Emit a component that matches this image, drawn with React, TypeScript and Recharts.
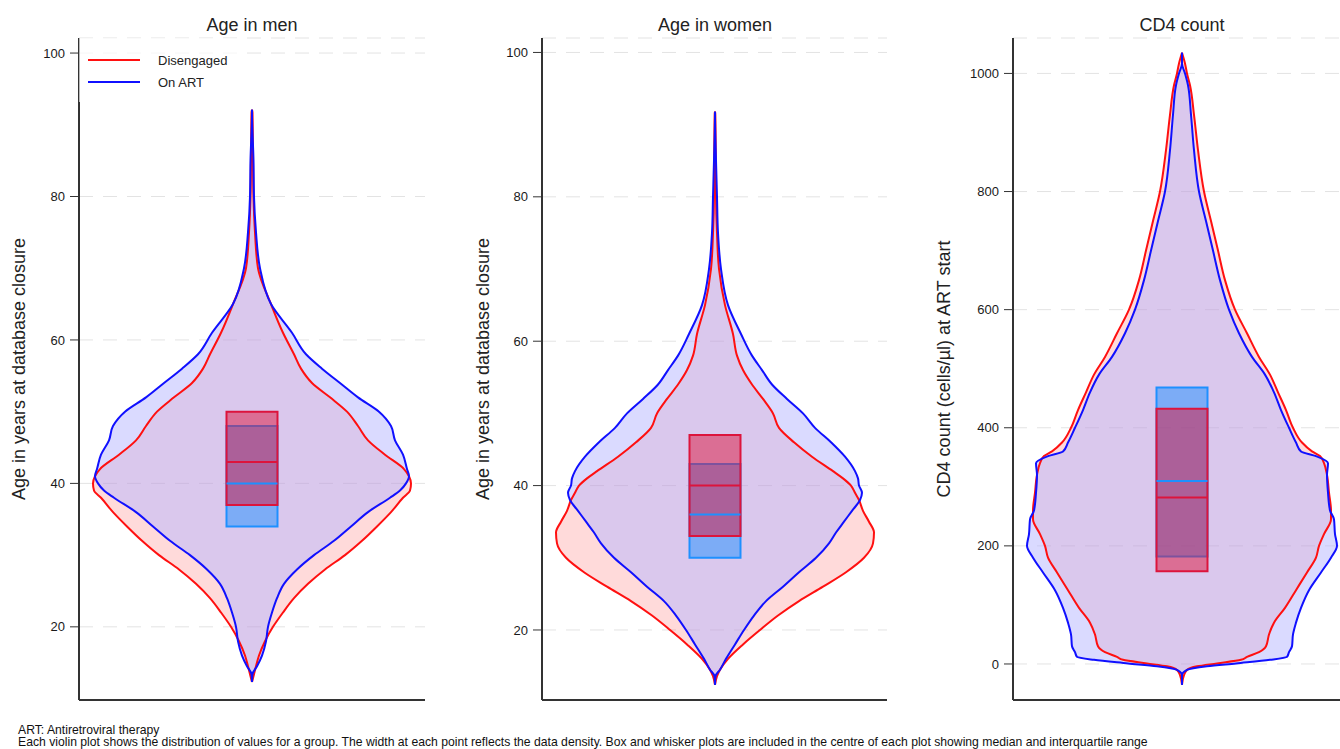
import React from "react";
import {
  Area,
  CartesianGrid,
  ComposedChart,
  Legend,
  ReferenceArea,
  ReferenceLine,
  XAxis,
  YAxis,
} from "recharts";

// violin half-widths (density, arbitrary units) read at each value level
const menAge = [12.3, 13.4, 14.5, 16, 18, 20, 22, 24, 26, 28, 30, 32, 34, 36, 38, 39, 40, 41, 42, 44, 46, 48, 50, 52, 54, 56, 58, 61, 65, 70, 75, 80, 85, 91.7, 92.1];
const menDisengaged = [0, 2, 4, 7, 13, 21, 31, 42, 56, 73, 93, 110, 125, 139, 151, 158, 159, 157, 152, 133, 116, 106, 95, 78, 60, 49, 42, 31, 19, 6, 3, 1.5, 1, 0.5, 0];
const menOnArt = [0, 0.5, 5, 10, 14, 16, 20, 25, 32, 45, 62, 82, 99, 116, 138, 148, 154, 157, 155, 151, 143, 139, 127, 106, 88, 70, 54, 40, 19, 8, 4, 2, 1.5, 0, 0];

const womenAge = [12.4, 13.6, 14.5, 16, 18, 20, 22, 24, 26, 28, 30, 32, 33.5, 35, 36.5, 38, 39, 40, 41, 42, 44, 46, 48, 50, 52, 54, 56, 58, 61, 65, 70, 75, 80, 85, 91.5, 91.8];
const womenDisengaged = [0, 2, 5, 13, 28, 45, 63, 84, 108, 131, 149, 158, 159, 154, 148, 144, 140, 136, 128, 118, 97, 79, 64, 58, 48, 37, 28, 22, 18, 10, 4, 2, 1, 0.8, 0.3, 0];
const womenOnArt = [0, 0.5, 5, 11, 20, 29, 39, 51, 68, 84, 101, 114, 121, 129, 137, 145, 147, 144, 143, 140, 130, 116, 100, 88, 72, 57, 47, 37, 26, 13, 6, 3, 2, 1, 0, 0];

const cd4Count = [-35, -19, -10, -4, 1, 7, 12, 20, 30, 50, 70, 95, 125, 155, 180, 200, 220, 245, 260, 290, 320, 340, 352, 360, 375, 400, 430, 460, 490, 520, 560, 600, 650, 700, 750, 800, 870, 930, 980, 1000, 1017, 1035];
const cd4Disengaged = [0, 2, 5, 15, 35, 59, 65, 77, 84, 87, 92, 103, 114, 125, 134, 137, 142, 149, 149, 147, 145, 142, 138, 130, 120, 111, 104, 96, 88, 77, 65, 53, 43, 36, 29, 22, 16, 12, 8, 5, 3, 0];
const cd4OnArt = [0, 0, 5, 25, 54, 88, 105, 107, 110, 111, 114, 119, 127, 139, 149, 155, 153, 152, 148, 146, 145, 146, 134, 119, 114, 107, 99, 92, 83, 70, 57, 47, 38, 31, 24, 17, 12, 9, 6, 3, 0, 0];

// [q1, median, q3]
const menBoxDisengaged = [37, 43, 50];
const menBoxOnArt = [34, 40, 48];
const womenBoxDisengaged = [33, 40, 47];
const womenBoxOnArt = [30, 36, 43];
const cd4BoxDisengaged = [157, 282, 432];
const cd4BoxOnArt = [182, 310, 468];

const ageTicks = [20, 40, 60, 80, 100];
const cd4Ticks = [0, 200, 400, 600, 800, 1000];
const groupNames = ["Disengaged", "On ART"];

const RED = "#ff1010";
const BLUE = "#1010ff";
const BOX_RED = "#dc143c";
const BOX_BLUE = "#1e90ff";
const BOX_HALF = 25.5;
const FONT = "'Liberation Sans', Arial, sans-serif";

const buildRows = (levels: number[], dis: number[], art: number[]) =>
  levels.map((v, i) => ({ v, dis: [-dis[i], dis[i]], art: [-art[i], art[i]] }));

const renderLegend = (props: any) => {
  const items = (props.payload || []).filter((p: any) => p.type !== "none");
  return (
    <div style={{ padding: "11px 0 0 9px", fontFamily: FONT }}>
      {items.map((p: any) => (
        <div key={p.value} style={{ display: "flex", alignItems: "center", height: 22 }}>
          <svg width={52} height={4} style={{ display: "block" }}>
            <line x1={0} y1={2} x2={52} y2={2} stroke={p.color} strokeWidth={2} />
          </svg>
          <span style={{ marginLeft: 18, fontSize: 13, color: "#222" }}>{p.value}</span>
        </div>
      ))}
    </div>
  );
};

interface ViolinPanelProps {
  title: string;
  yLabel: string;
  rows: { v: number; dis: number[]; art: number[] }[];
  boxDis: number[];
  boxArt: number[];
  ticks: number[];
  yDomain: [number, number];
  xDomain: [number, number];
  left: number;
  rightMargin: number;
  labelOffset: number;
  centre: number;
  showLegend?: boolean;
}

const ViolinPanel: React.FC<ViolinPanelProps> = ({
  title,
  yLabel,
  rows,
  boxDis,
  boxArt,
  ticks,
  yDomain,
  xDomain,
  left,
  rightMargin,
  labelOffset,
  centre,
  showLegend,
}) => {
  return (
    <>
      <div
        style={{
          position: "absolute",
          left: centre - 150,
          width: 300,
          top: 16,
          textAlign: "center",
          fontSize: 18,
          lineHeight: "18px",
          color: "#222",
          fontFamily: FONT,
        }}
      >
        {title}
      </div>
      <div style={{ position: "absolute", left, top: 0 }}>
        <ComposedChart
          width={440}
          height={749}
          layout="vertical"
          data={rows}
          margin={{ top: 38, right: rightMargin, bottom: 48, left: 0 }}
        >
          <CartesianGrid vertical={false} stroke="#e3e3e3" strokeDasharray="14 10" />
          <XAxis
            type="number"
            domain={xDomain}
            tick={false}
            tickLine={false}
            height={1}
            axisLine={{ stroke: "#333", strokeWidth: 2 }}
          />
          <YAxis
            type="number"
            dataKey="v"
            domain={yDomain}
            reversed
            ticks={ticks}
            width={79}
            tickSize={9}
            tickMargin={5}
            tick={{ fontSize: 13, fill: "#1a1a1a", fontFamily: FONT }}
            tickLine={{ stroke: "#333" }}
            axisLine={{ stroke: "#333", strokeWidth: 2 }}
            label={{
              value: yLabel,
              angle: -90,
              position: "insideLeft",
              offset: labelOffset,
              style: { textAnchor: "middle", fontSize: 18, fill: "#222", fontFamily: FONT },
            }}
          />
          <Area
            dataKey="dis"
            type="monotone"
            stroke="none"
            fill="#ff0000"
            fillOpacity={0.145}
            legendType="none"
            dot={false}
            activeDot={false}
            isAnimationActive={false}
          />
          <Area
            dataKey="art"
            type="monotone"
            stroke="none"
            fill="#b5b5ff"
            fillOpacity={0.5}
            legendType="none"
            dot={false}
            activeDot={false}
            isAnimationActive={false}
          />
          <Area
            name={groupNames[0]}
            dataKey="dis"
            type="monotone"
            stroke={RED}
            strokeWidth={2}
            fill="none"
            dot={false}
            activeDot={false}
            isAnimationActive={false}
          />
          <Area
            name={groupNames[1]}
            dataKey="art"
            type="monotone"
            stroke={BLUE}
            strokeWidth={2}
            fill="none"
            dot={false}
            activeDot={false}
            isAnimationActive={false}
          />
          <ReferenceArea
            x1={-BOX_HALF}
            x2={BOX_HALF}
            y1={boxArt[0]}
            y2={boxArt[2]}
            fill={BOX_BLUE}
            fillOpacity={0.5}
            stroke={BOX_BLUE}
            strokeWidth={2}
          />
          <ReferenceArea
            x1={-BOX_HALF}
            x2={BOX_HALF}
            y1={boxDis[0]}
            y2={boxDis[2]}
            fill={BOX_RED}
            fillOpacity={0.5}
            stroke={BOX_RED}
            strokeWidth={2}
          />
          <ReferenceLine
            segment={[
              { x: -BOX_HALF, y: boxDis[1] },
              { x: BOX_HALF, y: boxDis[1] },
            ]}
            stroke={BOX_RED}
            strokeWidth={2}
          />
          <ReferenceLine
            segment={[
              { x: -BOX_HALF, y: boxArt[1] },
              { x: BOX_HALF, y: boxArt[1] },
            ]}
            stroke={BOX_BLUE}
            strokeWidth={2}
          />
          {showLegend && (
            <Legend
              layout="horizontal"
              verticalAlign="middle"
              align="center"
              content={renderLegend}
              wrapperStyle={{
                left: 79,
                top: 38,
                width: 161,
                height: 64,
                background: "rgba(255,255,255,0.65)",
              }}
            />
          )}
        </ComposedChart>
      </div>
    </>
  );
};

export default function App() {
  return (
    <div
      style={{
        position: "absolute",
        left: 0,
        top: 0,
        width: 1340,
        height: 749,
        overflow: "hidden",
        background: "#fff",
        fontFamily: FONT,
      }}
    >
      <ViolinPanel
        title="Age in men"
        yLabel="Age in years at database closure"
        rows={buildRows(menAge, menDisengaged, menOnArt)}
        boxDis={menBoxDisengaged}
        boxArt={menBoxOnArt}
        ticks={ageTicks}
        yDomain={[9.8, 102.1]}
        xDomain={[-173, 173]}
        left={0}
        rightMargin={15}
        labelOffset={19}
        centre={252}
        showLegend
      />
      <ViolinPanel
        title="Age in women"
        yLabel="Age in years at database closure"
        rows={buildRows(womenAge, womenDisengaged, womenOnArt)}
        boxDis={womenBoxDisengaged}
        boxArt={womenBoxOnArt}
        ticks={ageTicks}
        yDomain={[10.3, 102.0]}
        xDomain={[-173, 172]}
        left={463}
        rightMargin={16}
        labelOffset={20}
        centre={715}
      />
      <ViolinPanel
        title="CD4 count"
        yLabel="CD4 count (cells/µl) at ART start"
        rows={buildRows(cd4Count, cd4Disengaged, cd4OnArt)}
        boxDis={cd4BoxDisengaged}
        boxArt={cd4BoxOnArt}
        ticks={cd4Ticks}
        yDomain={[-61, 1060]}
        xDomain={[-169, 169]}
        left={934}
        rightMargin={23}
        labelOffset={10}
        centre={1182}
      />
      <div
        style={{
          position: "absolute",
          left: 18,
          top: 725,
          fontSize: 12.2,
          lineHeight: "11.7px",
          color: "#111",
          whiteSpace: "nowrap",
        }}
      >
        <div>ART: Antiretroviral therapy</div>
        <div>
          Each violin plot shows the distribution of values for a group. The width at each point reflects the data
          density. Box and whisker plots are included in the centre of each plot showing median and interquartile
          range
        </div>
      </div>
    </div>
  );
}
